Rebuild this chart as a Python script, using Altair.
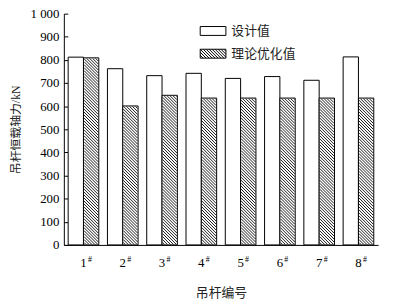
import altair as alt
import pandas as pd

# ---- data ----
members = ["1", "2", "3", "4", "5", "6", "7", "8"]
series_names = ["设计值", "理论优化值"]
design = [812, 762, 732, 742, 720, 728, 712, 813]
optimized = [809, 601, 647, 635, 635, 635, 635, 635]
y_ticks = [0, 100, 200, 300, 400, 500, 600, 700, 800, 900, 1000]

W, H = 318, 234
Y_MAX = 1000
PAD_IN, PAD_OUT = 0.22, 0.11
FONT = "Liberation Serif, Noto Sans CJK SC"

long = pd.DataFrame(
    [{"member": m, "series": series_names[0], "value": v} for m, v in zip(members, design)]
    + [{"member": m, "series": series_names[1], "value": v} for m, v in zip(members, optimized)]
)


# ---- hatch drawn as a symbol path (1 unit = 1 px with size 4), lines "\" ----
def hatch_path(w, h, period=3.0, inset=0.5):
    x0, y0, x1, y1 = inset, inset, w - inset, h - inset
    segs = []
    c = -h
    while c < w:
        ya = max(y0, x0 - c)
        yb = min(y1, x1 - c)
        if yb - ya > 0.3:
            segs.append("M%.2f,%.2fL%.2f,%.2f" % (ya + c - w / 2, ya - h / 2, yb + c - w / 2, yb - h / 2))
        c += period
    return "".join(segs)


def rect_path(w, h):
    return "M%.2f,%.2fH%.2fV%.2fH%.2fZ" % (-w / 2, -h / 2, w / 2, h / 2, -w / 2)


step = W / (len(members) - PAD_IN + 2 * PAD_OUT)
bar_w = step * (1 - PAD_IN) / 2

shape_conditions = [
    {"test": "datum.value === %s" % v, "value": hatch_path(bar_w, v / Y_MAX * H)}
    for v in sorted(set(optimized))
]
shape_def = {"condition": shape_conditions, "value": "M0,0"}

x_axis = alt.Axis(title="吊杆编号", ticks=False, labelAngle=0, labelPadding=12,
                  labelFont=FONT, labelFontSize=13, titleFont=FONT, titleFontSize=13,
                  titleFontWeight="normal", titlePadding=17, titleColor="#222")
x_scale = alt.Scale(paddingInner=PAD_IN, paddingOuter=PAD_OUT)
xoff_enc = alt.XOffset("series:N", sort=series_names,
                       scale=alt.Scale(domain=series_names, paddingInner=0, paddingOuter=0))
y_axis = alt.Axis(title="吊杆恒载轴力/kN", values=y_ticks, tickCount=20, tickSize=alt.ExprRef("-4"),
                  labelOverlap=False, labelPadding=9, labelFont=FONT, labelFontSize=13,
                  labelExpr="datum.value == 1000 ? '1 000' : datum.label",
                  titleFont=FONT, titleFontSize=12, titleFontWeight="normal",
                  titlePadding=7.5, titleColor="#222")
y_scale = alt.Scale(domain=[0, Y_MAX], nice=False)

bars = alt.Chart(long).mark_bar(stroke="black", strokeWidth=1, fill="white").encode(
    x=alt.X("member:N", sort=members, scale=x_scale, axis=x_axis),
    xOffset=xoff_enc,
    y=alt.Y("value:Q", scale=y_scale, axis=y_axis),
)

hatch = alt.Chart(long).transform_filter(
    alt.datum.series == series_names[1]
).transform_calculate(mid="datum.value / 2").mark_point(
    size=4, filled=False, stroke="black", strokeWidth=0.9, opacity=1
).encode(
    x=alt.X("member:N", sort=members, scale=x_scale, axis=x_axis),
    xOffset=xoff_enc,
    y=alt.Y("mid:Q", scale=y_scale, axis=y_axis),
    shape=shape_def,
)

legend_layer = alt.Chart(long).transform_filter("false").mark_point(
    size=4, filled=False, stroke="black", strokeWidth=1, opacity=1
).encode(
    shape=alt.Shape(
        "series:N",
        scale=alt.Scale(domain=series_names,
                        range=[rect_path(26, 9), rect_path(26, 9) + hatch_path(26, 9, inset=0)]),
        legend=alt.Legend(
            title=None, orient="none", legendX=144.5, legendY=11,
            symbolSize=4, symbolStrokeColor="black", symbolStrokeWidth=1,
            symbolFillColor="white",
            labelFont=FONT, labelFontSize=13, labelColor="#222", labelOffset=12,
            rowPadding=9, padding=0,
        ),
    ),
)

sharps = alt.Chart(pd.DataFrame({"member": members})).mark_text(
    text="#", font=FONT, fontSize=8, dx=6.5, color="black"
).encode(x=alt.X("member:N", sort=members, scale=x_scale, axis=x_axis), y=alt.value(H + 15))

chart = alt.layer(bars, hatch, legend_layer, sharps).properties(
    width=W, height=H,
    autosize=alt.AutoSizeParams(type="none"),
    padding={"left": 56.5, "top": 4, "right": 8, "bottom": 54},
).configure_view(stroke=None).configure_axis(
    grid=False, domainColor="black", tickColor="black", labelColor="black"
)

chart.save("out.html", embed_options={"renderer": "svg", "actions": False})
